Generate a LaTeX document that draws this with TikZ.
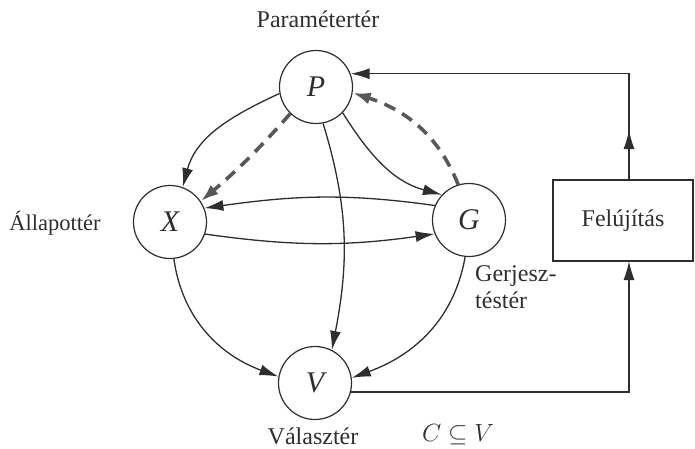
\documentclass[tikz,border=0pt]{standalone}
\usepackage{fontspec}
\setmainfont{Liberation Serif}
\usetikzlibrary{arrows.meta}
\definecolor{ink}{HTML}{2E2E2E}
\tikzset{
  every picture/.style={x=1pt,y=-1pt},
  circ/.style={circle,draw=ink,line width=1.2pt,minimum size=73pt,inner sep=0pt,font=\fontsize{30}{32}\selectfont\itshape,text=ink},
  lbl/.style={font=\fontsize{24}{27}\selectfont,text=ink,inner sep=0pt},
  con/.style={draw=ink,line width=1.3pt,-{Latex[length=19pt,width=11pt]}},
  dcon/.style={draw=ink!80,line width=3.6pt,dash pattern=on 12pt off 8pt,-{Latex[length=18pt,width=12pt]}},
  boxx/.style={draw=ink,line width=1.2pt,minimum width=140pt,minimum height=81pt,inner sep=0pt,font=\fontsize{24}{27}\selectfont,text=ink}
}
\begin{document}
\begin{tikzpicture}
\useasboundingbox (0,0) rectangle (695,448);
\node[circ] (P) at (316,87) {P};
\node[circ] (X) at (170,222) {X};
\node[circ] (G) at (469,220) {G};
\node[circ] (V) at (315,383) {V};
\node[boxx] (F) at (623,220.5) {Felújítás};

\node[lbl] (lp) at (318,19) {Paramétertér};
\node[lbl,font=\fontsize{22.5}{26}\selectfont] (lx) at (55,223) {Állapottér};
\node[lbl,align=left,anchor=north west] (lg) at (475,265) {Gerjesz-\\téstér};
\node[lbl,anchor=base] (lv) at (313,444) {Választér};
\node[lbl,font=\fontsize{27}{30}\selectfont,anchor=base] (lc) at (458,441) {$C\subseteq V$};

% solid connectors
\draw[con] (P.190) to[out=205,in=75] (X.70);
\draw[con] (P.281) to[out=-73,in=79] (V.63);
\draw[con] (P.316) to[out=-58,in=165] (G.137);
\draw[con] (G.157) to[out=172,in=8] (X.22);
\draw[con] (X.-19) to[out=-8,in=188] (G.202);
\draw[con] (X.-84) to[out=-82,in=160] (V.170);
\draw[con] (G.-96) to[out=-100,in=20] (V.8);

% dashed connectors
\draw[dcon] (P.226) to[bend left=4] (X.34);
\draw[dcon] (G.107) to[out=112,in=-18] (P.-9);

% feedback loop
\coordinate (m1) at (629,130);
\coordinate (fb) at (629,180);
\coordinate (ft) at (629,261);
\draw[con] (V.-14) -| (ft);
\draw[con] (fb) |- (P.21);
\draw[con] (fb) -- (m1);
\end{tikzpicture}
\end{document}
